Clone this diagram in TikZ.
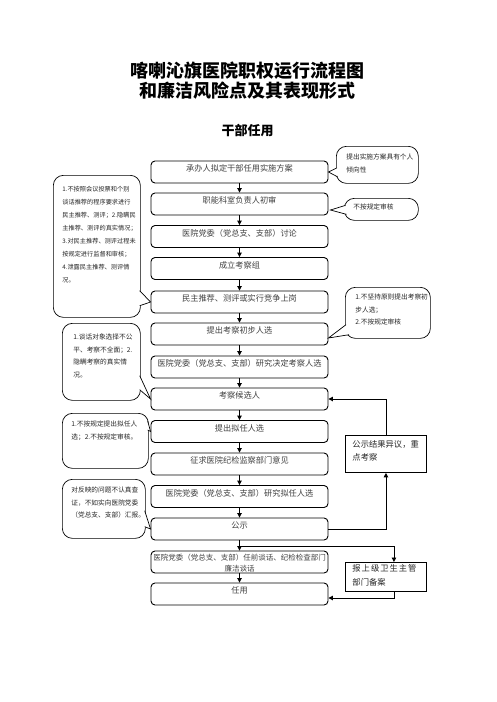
\documentclass[tikz,border=0pt]{standalone}
\usepackage{fontspec}
\newfontfamily\cjk{Noto Sans CJK SC}
\newfontfamily\cjkls[LetterSpace=12]{Noto Sans CJK SC}
\usetikzlibrary{arrows.meta,calc}
\begin{document}
\begin{tikzpicture}[x=1pt,y=-1pt,
  box/.style={draw, line width=0.9pt, rounded corners=4pt, minimum width=177pt, minimum height=22pt,
    inner sep=0pt, align=center, text height=7pt, text depth=7.8pt,
    font=\cjk\fontsize{8.2}{10}\selectfont, text=black!75},
  bub/.style={draw, line width=0.7pt, rounded corners=10pt, anchor=north west, inner ysep=0pt,
    align=left, font=\cjk\fontsize{6.7}{12.5}\selectfont, text=black!85},
  tail/.style={draw, line width=0.7pt, fill=white, line join=miter},
  rbox/.style={draw, line width=0.9pt, anchor=north west, inner ysep=0pt, inner xsep=7pt,
    text width=67pt, align=left, font=\cjk\fontsize{8.3}{13}\selectfont, text=black!85},
  arr/.style={line width=0.9pt, -{Triangle[length=4.5pt,width=4.5pt]}}
]
\useasboundingbox (0,0) rectangle (496,702);

% titles
\node[font=\cjk\bfseries\fontsize{18}{20}\selectfont] (t1) at (247.5,70.7) {喀喇沁旗医院职权运行流程图};
\node[font=\cjk\bfseries\fontsize{18}{20}\selectfont] (t2) at (247.5,90.7) {和廉洁风险点及其表现形式};
\node[font=\cjk\bfseries\fontsize{13}{15}\selectfont] (t3) at (247.5,131) {干部任用};

% main boxes
\node[box] (b1) at (239.5,172) {承办人拟定干部任用实施方案};
\node[box] (b2) at (239.5,204) {职能科室负责人初审};
\node[box] (b3) at (239.5,236.5) {医院党委（党总支、支部）讨论};
\node[box] (b4) at (239.5,268.5) {成立考察组};
\node[box] (b5) at (239.5,302) {民主推荐、测评或实行竞争上岗};
\node[box] (b6) at (239.5,334) {提出考察初步人选};
\node[box] (b7) at (239.5,367) {医院党委（党总支、支部）研究决定考察人选};
\node[box] (b8) at (239.5,399) {考察候选人};
\node[box] (b9) at (239.5,431.5) {提出拟任人选};
\node[box] (b10) at (239.5,464) {征求医院纪检监察部门意见};
\node[box] (b11) at (239.5,496.5) {医院党委（党总支、支部）研究拟任人选};
\node[box] (b12) at (239.5,529) {公示};
\node[box, font=\cjk\fontsize{7.5}{11}\selectfont, text height=20pt, text depth=0.3pt] (b13) at (239.5,562)
  {医院党委（党总支、支部）任前谈话、纪检检查部门\\廉洁谈话};
\node[box] (b14) at (239.5,594) {任用};

\foreach \a/\b in {b1/b2,b2/b3,b3/b4,b4/b5,b5/b6,b6/b7,b7/b8,b8/b9,b9/b10,b10/b11,b11/b12,b12/b13,b13/b14}
  \draw[arr] (\a.south) -- (\b.north);

% right boxes
\node[rbox, text height=12.2pt, text depth=24.8pt] (r1) at (345,435) {公示结果异议，重\\点考察};
\node[rbox, text height=9.2pt, text depth=19.8pt, font=\cjk\fontsize{8.3}{14}\selectfont] (r2) at (345,562)
  {{\cjkls 报上级卫生主管}\\部门备案};

\draw[arr] (b12.east) -| (r1.south);
\draw[arr] (r1.north) |- (b8.east);
\coordinate (br) at ($(b12.south)!0.55!(b13.north)$);
\draw[arr] (br) -| ($(r2.north)+(8,0)$);
\draw[arr] ($(r2.south)+(8,0)$) |- ($(b14.east)+(0,4)$);

% right callouts
\node[bub, inner xsep=10pt, text width=62pt, text height=13.5pt, text depth=23.5pt] (A) at (336,146)
  {提出实施方案具有个人\\倾向性};
\draw[tail] ($(A.west)+(1,3)$) -- (b1.east) -- ($(A.west)+(1.6,12)$);

\node[bub, inner xsep=9pt, text width=56pt, text height=11.2pt, text depth=10.8pt] (B) at (344,198)
  {不按规定审核};
\draw[tail] ($(B.west)+(1.5,-4)$) -- ($(b2.east)+(2,6)$) -- ($(B.west)+(2.5,5)$);

\node[bub, inner xsep=10pt, text width=65pt, text height=12.5pt, text depth=38.5pt] (C) at (345,287)
  {1.不坚持原则提出考察初\\步人选；\\2.不按规定审核};
\draw[tail] ($(C.south west)+(1,-14)$) -- ($(b6.east)+(0,4)$) -- ($(C.south west)+(4,-4)$);

% left callouts
\node[bub, inner xsep=9pt, text width=69pt, text height=16.5pt, text depth=125.5pt,
  font=\cjk\fontsize{6.2}{13}\selectfont] (D) at (53,175)
  {1.不按照会议投票和个别\\谈话推荐的程序要求进行\\民主推荐、测评；2.隐瞒民\\主推荐、测评的真实情况；\\3.对民主推荐、测评过程未\\按规定进行监督和审核；\\4.泄露民主推荐、测评情\\况。};
\draw[tail] ($(D.south east)+(-1,-27)$) -- (b5.west) -- ($(D.south east)+(-1,-12)$);

\node[bub, inner xsep=11pt, text width=56pt, text height=16.5pt, text depth=60.5pt] (E) at (62,323)
  {1.谈话对象选择不公\\平、考察不全面；2.\\隐瞒考察的真实情\\况。};
\draw[tail] ($(E.south east)+(-1,-25)$) -- (b8.west) -- ($(E.south east)+(-1,-11)$);

\node[bub, inner xsep=9pt, text width=68pt, text height=13.5pt, text depth=41.5pt] (F) at (62,413)
  {1.不按规定提出拟任人\\选；2.不按规定审核。};
\draw[tail] ($(F.north east)+(-1,8)$) -- (b9.west) -- ($(F.north east)+(-1,17)$);

\node[bub, inner xsep=9pt, text width=65pt, text height=13.5pt, text depth=45.5pt] (G) at (62,479)
  {对反映的问题不认真查\\证，不如实向医院党委\\（党总支、支部）汇报。};
\draw[tail] ($(G.south east)+(-1,-28)$) -- (b12.west) -- ($(G.south east)+(-1,-12)$);
\end{tikzpicture}
\end{document}
